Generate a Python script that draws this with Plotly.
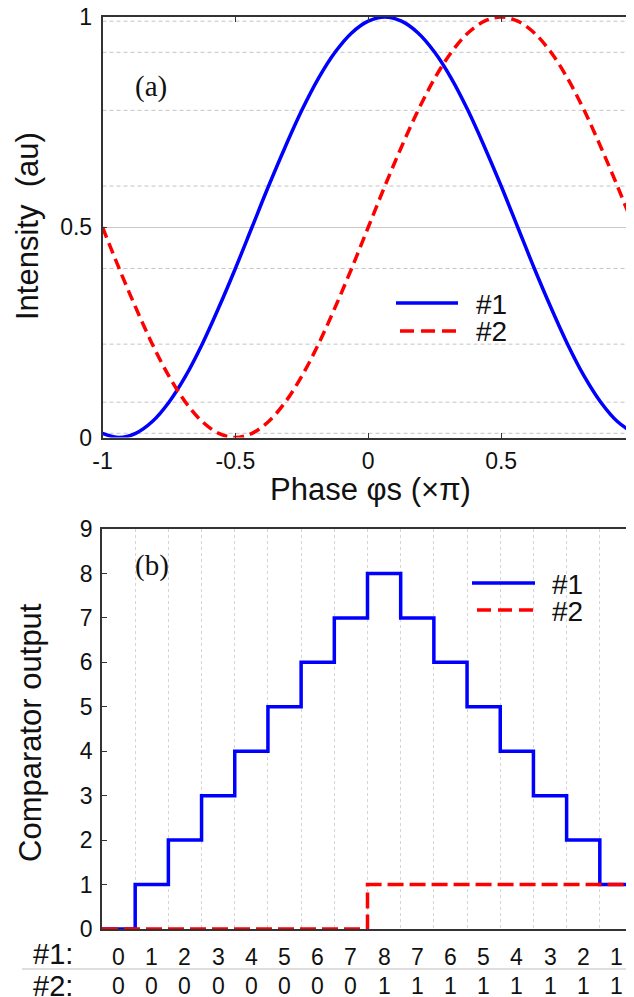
import plotly.graph_objects as go

# The page body has an 8 px margin, so the figure is drawn at (8, 8) in the window.
OFF = 8
W, H = 634 - OFF, 997 - OFF

# ---------------- Panel (a) data ----------------
phase = [-1.0, -0.9375, -0.875, -0.8125, -0.75, -0.6875, -0.625, -0.5625,
         -0.5, -0.4375, -0.375, -0.3125, -0.25, -0.1875, -0.125, -0.0625,
         0.0, 0.0625, 0.125, 0.1875, 0.25, 0.3125, 0.375, 0.4375,
         0.5, 0.5625, 0.625, 0.6875, 0.75, 0.8125, 0.875, 0.9375, 1.0]
intensity_1 = [0.010, 0.000, 0.010, 0.038, 0.084, 0.146, 0.222, 0.309,
               0.402, 0.500, 0.598, 0.691, 0.778, 0.854, 0.916, 0.962,
               0.990, 1.000, 0.990, 0.962, 0.916, 0.854, 0.778, 0.691,
               0.598, 0.500, 0.402, 0.309, 0.222, 0.146, 0.084, 0.038, 0.010]
intensity_2 = [0.500, 0.402, 0.309, 0.222, 0.146, 0.084, 0.038, 0.010,
               0.000, 0.010, 0.038, 0.084, 0.146, 0.222, 0.309, 0.402,
               0.500, 0.598, 0.691, 0.778, 0.854, 0.916, 0.962, 0.990,
               1.000, 0.990, 0.962, 0.916, 0.854, 0.778, 0.691, 0.598, 0.500]
thresholds = [0.010, 0.084, 0.222, 0.402, 0.598, 0.778, 0.916, 0.990]
a_xticks = [-1, -0.5, 0, 0.5, 1]
a_xticktext = ["-1", "-0.5", "0", "0.5", "1"]
a_yticks = [0, 0.5, 1]
a_yticktext = ["0", "0.5", "1"]

# ---------------- Panel (b) data ----------------
bin_edges = [0, 1, 2, 3, 4, 5, 6, 7, 8, 9, 10, 11, 12, 13, 14, 15, 16]
comparator_1 = [0, 1, 2, 3, 4, 5, 6, 7, 8, 7, 6, 5, 4, 3, 2, 1]
comparator_2 = [0, 0, 0, 0, 0, 0, 0, 0, 1, 1, 1, 1, 1, 1, 1, 1]
code_row_1 = ["0", "1", "2", "3", "4", "5", "6", "7", "8", "7", "6", "5", "4", "3", "2", "1"]
code_row_2 = ["0", "0", "0", "0", "0", "0", "0", "0", "1", "1", "1", "1", "1", "1", "1", "1"]

BLUE = "#0000ff"
RED = "#ff0000"
FONT = "Liberation Sans"
SERIF = "Liberation Serif"
AX = "#333333"
LW = 3.5


def px(xp):
    return (xp - OFF) / W


def py(yp):
    return 1 - (yp - OFF) / H


fig = go.Figure()

fig.add_trace(go.Scatter(x=phase, y=intensity_1, mode="lines", line_shape="spline",
                         line=dict(color=BLUE, width=LW), xaxis="x", yaxis="y",
                         showlegend=False))
fig.add_trace(go.Scatter(x=phase, y=intensity_2, mode="lines", line_shape="spline",
                         line=dict(color=RED, width=LW, dash="11px,6px"), xaxis="x", yaxis="y",
                         showlegend=False))

fig.add_trace(go.Scatter(x=bin_edges, y=comparator_1 + comparator_1[-1:], mode="lines",
                         line_shape="hv", line=dict(color=BLUE, width=LW),
                         xaxis="x2", yaxis="y2", showlegend=False))
fig.add_trace(go.Scatter(x=bin_edges, y=comparator_2 + comparator_2[-1:], mode="lines",
                         line_shape="hv", line=dict(color=RED, width=LW, dash="16px,6px"),
                         xaxis="x2", yaxis="y2", showlegend=False))

shapes = []
for t in thresholds:
    shapes.append(dict(type="line", xref="x domain", x0=0, x1=1, yref="y", y0=t, y1=t,
                       line=dict(color="#c4c4c4", width=1, dash="4px,3px"), layer="below"))

# legend (a)
shapes.append(dict(type="line", xref="paper", yref="paper", x0=px(396), x1=px(458),
                   y0=py(303), y1=py(303), line=dict(color=BLUE, width=LW)))
shapes.append(dict(type="line", xref="paper", yref="paper", x0=px(400), x1=px(458),
                   y0=py(331), y1=py(331), line=dict(color=RED, width=LW, dash="14px,7px")))
# legend (b)
shapes.append(dict(type="line", xref="paper", yref="paper", x0=px(472), x1=px(535),
                   y0=py(583), y1=py(583), line=dict(color=BLUE, width=LW)))
shapes.append(dict(type="line", xref="paper", yref="paper", x0=px(477), x1=px(535),
                   y0=py(610), y1=py(610), line=dict(color=RED, width=LW, dash="14px,7px")))
# separator between code rows
shapes.append(dict(type="line", xref="paper", yref="paper", x0=px(22), x1=1,
                   y0=py(969), y1=py(969), line=dict(color="#bdbdbd", width=1)))

annotations = []


def txt(text, x, y, size=31, family=FONT, xanchor="center", yanchor="middle",
        angle=0, xref="paper"):
    annotations.append(dict(text=text, x=x, y=y, xref=xref, yref="paper",
                            xanchor=xanchor, yanchor=yanchor, showarrow=False,
                            textangle=angle, borderpad=0,
                            font=dict(family=family, size=size, color="#111111")))


txt("(a)", px(134), py(87), size=29, family=SERIF, xanchor="left")
txt("(b)", px(134), py(565), size=29, family=SERIF, xanchor="left")
txt("Intensity  (au)", px(28), py(226), angle=-90)
txt("Phase \u03c6s (\u00d7\u03c0)", px(370), py(489))
txt("Comparator output", px(30), py(733), angle=-90)
txt("#1", px(475), py(304), size=28, xanchor="left")
txt("#2", px(475), py(331), size=28, xanchor="left")
txt("#1", px(551), py(584), size=28, xanchor="left")
txt("#2", px(551), py(611), size=28, xanchor="left")
txt("#1:", px(74), py(954), size=29, xanchor="right")
txt("#2:", px(74), py(986), size=29, xanchor="right")
for k, (c1, c2) in enumerate(zip(code_row_1, code_row_2)):
    txt(c1, k + 0.5, py(957), size=23, xref="x2")
    txt(c2, k + 0.5, py(986), size=23, xref="x2")

tickfont = dict(family=FONT, size=23, color="#111111")

fig.update_layout(
    width=W, height=H,
    margin=dict(l=0, r=0, t=0, b=0, autoexpand=False),
    paper_bgcolor="white", plot_bgcolor="white",
    showlegend=False,
    shapes=shapes,
    annotations=annotations,
    xaxis=dict(domain=[px(102.5), 1], range=[-1, 1], tickvals=a_xticks, ticktext=a_xticktext,
               ticks="inside", ticklen=5, tickcolor=AX, showline=True, linecolor=AX,
               linewidth=1.5, mirror="ticks", showgrid=False, zeroline=False,
               tickfont=tickfont, anchor="y", automargin=False,
               ticklabeloverflow="allow", ticklabelstandoff=2),
    yaxis=dict(domain=[py(437.5), py(17)], range=[0, 1], tickvals=a_yticks,
               ticktext=a_yticktext, ticks="inside", ticklen=5, tickcolor=AX,
               showline=True, linecolor=AX, linewidth=1.5, showgrid=True,
               gridcolor="#c8c8c8", gridwidth=1, zeroline=False, tickfont=tickfont,
               anchor="x", automargin=False, ticklabeloverflow="allow",
               ticklabelstandoff=4),
    xaxis2=dict(domain=[px(102), px(632)], range=[0, 15.97], tickvals=bin_edges[1:16],
                showticklabels=False, ticks="", showline=True, linecolor=AX, linewidth=1.5,
                mirror=True, showgrid=True, gridcolor="#d4d4d4", griddash="dot",
                gridwidth=1, zeroline=False, anchor="y2", automargin=False),
    yaxis2=dict(domain=[py(929), py(529)], range=[0, 9], dtick=1, ticks="inside",
                ticklen=5, tickcolor=AX, showline=True, linecolor=AX, linewidth=1.5,
                mirror="ticks", showgrid=False, zeroline=False, tickfont=tickfont,
                anchor="x2", automargin=False, ticklabeloverflow="allow",
                ticklabelstandoff=3),
)

fig.write_html("out.html")
